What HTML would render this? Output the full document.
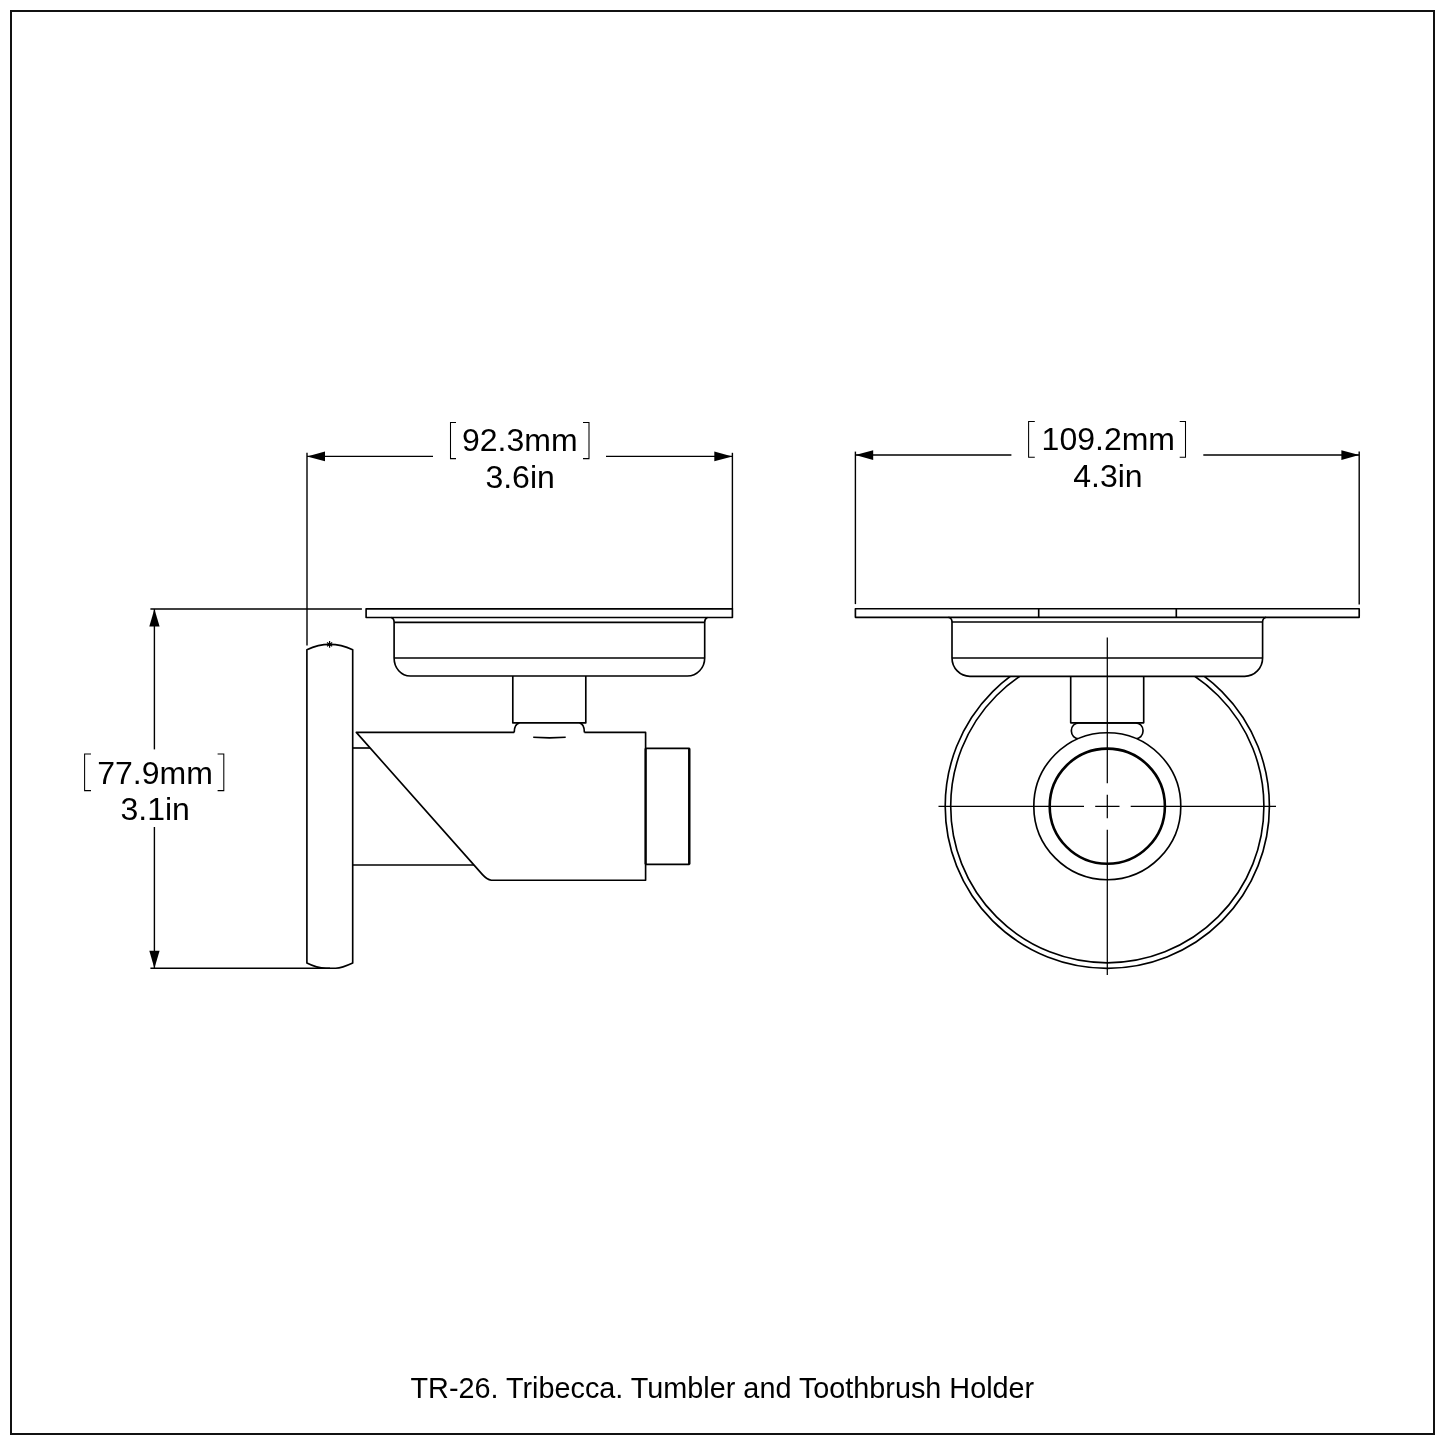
<!DOCTYPE html>
<html><head><meta charset="utf-8"><style>
html,body{margin:0;padding:0;background:#fff;width:1445px;height:1445px;overflow:hidden}
svg{display:block;filter:grayscale(100%)}
text{font-family:"Liberation Sans",sans-serif;fill:#000}
</style></head><body>
<svg width="1445" height="1445" viewBox="0 0 1445 1445">
<defs>
<clipPath id="belowBowl"><rect x="900" y="676.5" width="420" height="320"/></clipPath>
<clipPath id="aboveRing"><path d="M1060 715 H1160 V806 H1060 Z M1107.3 806.2 m-73.5 0 a73.5 73.5 0 1 0 147 0 a73.5 73.5 0 1 0 -147 0 Z" clip-rule="evenodd"/></clipPath>
</defs>
<!-- frame -->
<rect x="11" y="11" width="1423" height="1423" fill="none" stroke="#111" stroke-width="2"/>

<!-- ========== LEFT VIEW ========== -->
<g fill="none" stroke="#000" stroke-width="1.4">
  <!-- top dimension -->
  <line x1="307" y1="452.8" x2="307" y2="645.6"/>
  <line x1="732.4" y1="452.8" x2="732.4" y2="609"/>
  <line x1="307" y1="456.4" x2="433" y2="456.4"/>
  <line x1="606" y1="456.4" x2="732.4" y2="456.4"/>
  <path d="M456,422.5 H450.5 V458.6 H456" stroke-width="1.05"/>
  <path d="M583,422.5 H589 V458.6 H583" stroke-width="1.05"/>
  <!-- vertical dimension -->
  <line x1="154.4" y1="609" x2="154.4" y2="749.4"/>
  <line x1="154.4" y1="827" x2="154.4" y2="968.3"/>
  <line x1="150.4" y1="609" x2="361.9" y2="609"/>
  <line x1="150.4" y1="968.3" x2="330" y2="968.3"/>
  <path d="M91,754 H84.6 V790.6 H91" stroke-width="1.05"/>
  <path d="M217.6,754 H223.8 V790.6 H217.6" stroke-width="1.05"/>
</g>
<g fill="#000" stroke="none">
  <path d="M307,456.4 L325,451.5 L325,461.3 Z"/>
  <path d="M732.4,456.4 L714.3,451.5 L714.3,461.3 Z"/>
  <path d="M154.4,609 L149.3,626.5 L159.6,626.5 Z"/>
  <path d="M154.4,968.3 L149.3,950.8 L159.6,950.8 Z"/>
</g>
<text x="462" y="451.1" font-size="32">92.3mm</text>
<text x="485.4" y="487.9" font-size="32">3.6in</text>
<text x="97.2" y="783.5" font-size="32">77.9mm</text>
<text x="120.5" y="820" font-size="32">3.1in</text>

<g fill="none" stroke="#000" stroke-width="1.65" stroke-linejoin="round">
  <!-- plate -->
  <rect x="366.1" y="608.8" width="366.3" height="8.7"/>
  <!-- bowl -->
  <path d="M391,617.5 C393,618 394.1,620 394.1,622.3 V658 C394.1,668 401,676 410.4,676 H687.4 C697,676 704.7,668 704.7,658 V622.3 C704.7,620 706,618 707.4,617.5"/>
  <line x1="394.1" y1="622.3" x2="704.7" y2="622.3"/>
  <line x1="394.1" y1="658" x2="704.7" y2="658"/>
  <!-- stem -->
  <path d="M512.8,676 V722.9 H585.8 V676"/>
  <path d="M519.4,722.9 C516,723.8 514.2,727.5 514.2,732.4"/>
  <path d="M579.6,722.9 C583,723.8 584.4,727.5 584.4,732.4"/>
  <path d="M533.2,737.2 L549.5,737.9 L565.7,737.2"/>
  <!-- body -->
  <path d="M514.2,732.4 H356.3 L482.5,874.6 C485,877.3 488,879.6 491.3,880.2 H645.6 V732.4 H584.4"/>
  <line x1="352.8" y1="748" x2="370" y2="748"/>
  <line x1="352.8" y1="865" x2="474" y2="865"/>
  <!-- end cap -->
  <path d="M645.6,748.4 H689.2 V864.3 H645.6" />
  <line x1="645.6" y1="748.4" x2="645.6" y2="864.3" stroke-width="2.2"/>
  <line x1="689.3" y1="748.4" x2="689.3" y2="864.3" stroke-width="2.4"/>
  <!-- backplate -->
  <path d="M306.9,649.7 Q329.6,639.2 352.7,649.7 V962.9 C346,966 340,968 335.7,968.2 H326 C320,968 313,966 306.9,962.9 Z"/>
</g>
<path d="M329.6,641 V647.8 M327,642.6 L332.2,646.2 M332.2,642.6 L327,646.2" stroke="#000" stroke-width="1.2"/>

<!-- ========== RIGHT VIEW ========== -->
<g fill="none" stroke="#000" stroke-width="1.4">
  <line x1="855.4" y1="451.6" x2="855.4" y2="604.1"/>
  <line x1="1359.2" y1="451.6" x2="1359.2" y2="604.5"/>
  <line x1="855.4" y1="455" x2="1011.4" y2="455"/>
  <line x1="1203.3" y1="455" x2="1359.2" y2="455"/>
  <path d="M1034.8,421.4 H1028.6 V457.2 H1034.8" stroke-width="1.05"/>
  <path d="M1179.7,421.4 H1185.5 V457.2 H1179.7" stroke-width="1.05"/>
</g>
<g fill="#000" stroke="none">
  <path d="M855.4,455 L873.2,450.2 L873.2,459.9 Z"/>
  <path d="M1359.2,455 L1341.4,450.2 L1341.4,459.9 Z"/>
</g>
<text x="1041.6" y="450.3" font-size="32">109.2mm</text>
<text x="1073.2" y="486.9" font-size="32">4.3in</text>

<g fill="none" stroke="#000" stroke-width="1.65" stroke-linejoin="round">
  <rect x="855.4" y="608.7" width="503.8" height="8.6"/>
  <line x1="1038.7" y1="608.7" x2="1038.7" y2="617.3"/>
  <line x1="1176.3" y1="608.7" x2="1176.3" y2="617.3"/>
  <path d="M948.4,617.3 C950.5,617.8 952,620 952,622 V658 C952,668 960,676.3 969.9,676.3 H1244.7 C1254.6,676.3 1262.6,668 1262.6,658 V622 C1262.6,620 1264.1,617.8 1266.2,617.3"/>
  <line x1="952" y1="622" x2="1262.6" y2="622"/>
  <line x1="952" y1="658" x2="1262.6" y2="658"/>
  <g clip-path="url(#belowBowl)">
    <circle cx="1107.3" cy="806.2" r="162.1"/>
    <circle cx="1107.3" cy="806.2" r="156.6"/>
  </g>
  <circle cx="1107.3" cy="806.2" r="73.5"/>
  <circle cx="1107.3" cy="806.2" r="57.6" stroke-width="2.6"/>
  <path d="M1070.7,676.3 V722.8 H1143.7 V676.3"/>
  <g clip-path="url(#aboveRing)">
    <rect x="1071.4" y="722.8" width="71.6" height="16" rx="7.5" ry="7.5"/>
  </g>
</g>
<g fill="none" stroke="#000" stroke-width="1.4">
  <path d="M938.5,806.4 H1084 M1095.2,806.4 H1119.5 M1130.7,806.4 H1276" stroke-width="1.25"/>
  <path d="M1107.3,637.4 V783.3 M1107.3,794.8 V818.2 M1107.3,829.7 V975.1" stroke-width="1.25"/>
</g>

<text x="410.5" y="1397.7" font-size="28.8">TR-26. Tribecca. Tumbler and Toothbrush Holder</text>
</svg>
</body></html>
